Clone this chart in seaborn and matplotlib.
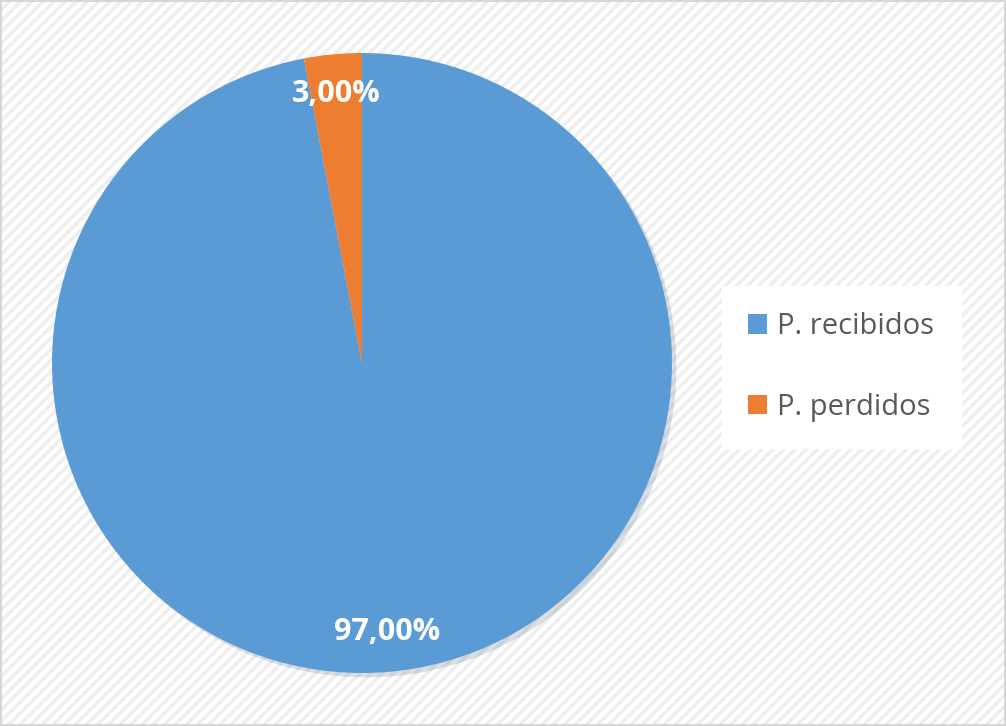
import matplotlib
matplotlib.use("Agg")
import matplotlib.pyplot as plt
import seaborn as sns

# Data
labels = ["P. recibidos", "P. perdidos"]
shares = [97.0, 3.0]
colors = ["#5B9BD5", "#ED7D31"]

sns.set_style("white")
plt.rcParams['font.family'] = ['Open Sans', 'DejaVu Sans']
plt.rcParams['hatch.linewidth'] = 2.5

fig = plt.figure(figsize=(10.06, 7.26), dpi=100)

# hatched chart-area background
bg = fig.add_axes([0, 0, 1, 1])
bg.set_xlim(0, 1)
bg.set_ylim(0, 1)
bg.add_patch(plt.Rectangle((0, 0), 1, 1, facecolor="white", edgecolor="#eeeeee",
                           hatch="///", linewidth=0, transform=bg.transAxes))
bg.add_patch(plt.Rectangle((0.001, 0.001), 0.998, 0.997, fill=False,
                           edgecolor="#d0d0d0", linewidth=1.2, transform=bg.transAxes))
bg.axis("off")

ax = fig.add_axes([(362 - 310) / 1006, (726 - 363 - 310) / 726, 620 / 1006, 620 / 726])


def fmt(p):
    return f"{p:.2f}".replace(".", ",") + "%"


wedges, texts, autotexts = ax.pie(
    shares, colors=colors, startangle=90, counterclock=False,
    autopct=fmt, pctdistance=0.87,
    wedgeprops={"linewidth": 0},
    shadow={"ox": 0.01, "oy": -0.01, "shade": 0.5, "alpha": 0.18},
    textprops={"color": "white", "fontsize": 22, "fontweight": "bold"},
)
ax.set_xlim(-1, 1)
ax.set_ylim(-1, 1)
ax.set_aspect("equal")

leg = fig.legend(wedges, labels, loc="center left",
                 bbox_to_anchor=(722 / 1006, 1 - 367 / 726),
                 frameon=True, fancybox=False, framealpha=1,
                 edgecolor="white", facecolor="white",
                 fontsize=21, labelcolor="#595959",
                 handlelength=0.65, handleheight=0.65, handletextpad=0.35,
                 labelspacing=1.75, borderpad=0.9, borderaxespad=0)

fig.savefig("out.png", dpi=100)
